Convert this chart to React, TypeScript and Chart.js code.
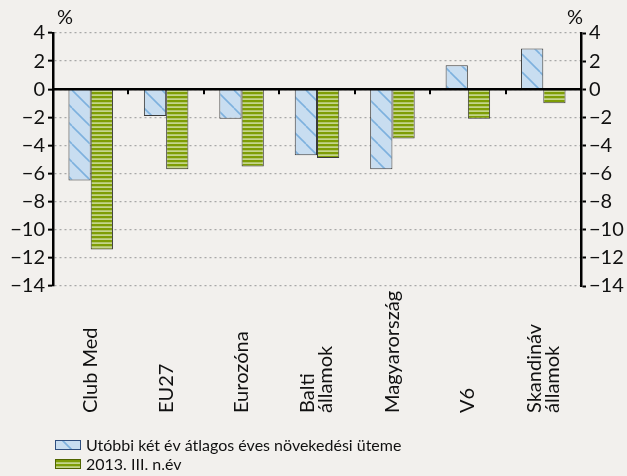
import React, { useEffect, useRef } from 'react';
import { Chart, registerables } from 'chart.js';

Chart.register(...registerables);

// ---- data ----
const categories: (string | string[])[] = [
  'Club Med',
  'EU27',
  'Eurozóna',
  ['Balti', 'államok'],
  'Magyarország',
  'V6',
  ['Skandináv', 'államok'],
];
const seriesNames = ['Utóbbi két év átlagos éves növekedési üteme', '2013. III. n.év'];
const avgGrowth = [-6.5, -1.9, -2.1, -4.7, -5.7, 1.7, 2.9];
const q3Growth = [-11.4, -5.7, -5.5, -4.9, -3.5, -2.1, -1.0];
const yMin = -14;
const yMax = 4;
const yStep = 2;
const unitLabel = '%';

// ---- styles ----
const BG = '#F2F0ED';
const FONT = 'Lato';
const TEXT = '#111111';

function makeBluePattern(): CanvasPattern | string {
  const s = 18;
  const c = document.createElement('canvas');
  c.width = s;
  c.height = s;
  const g = c.getContext('2d');
  if (!g) return '#C8DDF0';
  g.fillStyle = '#C8DDF0';
  g.fillRect(0, 0, s, s);
  g.strokeStyle = '#7DB1DE';
  g.lineWidth = 1.6;
  for (const k of [-s, 0, s]) {
    g.beginPath();
    g.moveTo(k, 0);
    g.lineTo(k + s, s);
    g.stroke();
  }
  return g.createPattern(c, 'repeat') || '#C8DDF0';
}

function makeGreenPattern(): CanvasPattern | string {
  const c = document.createElement('canvas');
  c.width = 4;
  c.height = 4;
  const g = c.getContext('2d');
  if (!g) return '#86A31A';
  g.fillStyle = '#C4D58C';
  g.fillRect(0, 0, 4, 4);
  g.fillStyle = '#7E9D05';
  g.fillRect(0, 0, 4, 2);
  g.fillStyle = '#A2B94A';
  g.fillRect(0, 2, 4, 0.5);
  return g.createPattern(c, 'repeat') || '#86A31A';
}

const fmt = (v: number | string) => {
  const n = Number(v);
  return n < 0 ? '\u2212' + Math.abs(n) : String(n);
};

export default function App() {
  const ref = useRef<HTMLCanvasElement | null>(null);

  useEffect(() => {
    if (!ref.current) return;
    const blue = makeBluePattern();
    const green = makeGreenPattern();
    const legendItems = [
      { name: seriesNames[0], fill: blue, stroke: '#2F4F7F' },
      { name: seriesNames[1], fill: green, stroke: '#4F6400' },
    ];

    const decor = {
      id: 'decor',
      afterDatasetsDraw(chart: any) {
        const { ctx, chartArea: ca, scales } = chart;
        const x = scales.x;
        const y = scales.y;
        const y0 = y.getPixelForValue(0);
        ctx.save();
        ctx.strokeStyle = '#000';
        ctx.lineWidth = 2.5;
        ctx.beginPath();
        ctx.moveTo(ca.left, y0);
        ctx.lineTo(ca.right, y0);
        ctx.stroke();
        ctx.lineWidth = 2;
        ctx.beginPath();
        for (let i = 0; i < categories.length - 1; i++) {
          const bx = Math.round((x.getPixelForValue(i) + x.getPixelForValue(i + 1)) / 2);
          ctx.moveTo(bx, y0);
          ctx.lineTo(bx, y0 + 5);
        }
        ctx.stroke();
        ctx.restore();
      },
      afterDraw(chart: any) {
        const { ctx, chartArea: ca, scales } = chart;
        const x = scales.x;
        ctx.save();
        ctx.fillStyle = TEXT;
        ctx.font = `20px ${FONT}`;
        // unit labels
        ctx.textBaseline = 'middle';
        ctx.textAlign = 'left';
        ctx.fillText(unitLabel, ca.left + 4, ca.top - 15);
        ctx.textAlign = 'right';
        ctx.fillText(unitLabel, ca.right + 2, ca.top - 15);
        // category labels (rotated)
        const lh = 18;
        categories.forEach((lab, i) => {
          const lines = Array.isArray(lab) ? lab : [lab];
          const cx = x.getPixelForValue(i);
          lines.forEach((ln, j) => {
            const off = (j - (lines.length - 1) / 2) * lh;
            ctx.save();
            ctx.translate(cx + off, ca.bottom + 127);
            ctx.rotate(-Math.PI / 2);
            ctx.textAlign = 'left';
            ctx.textBaseline = 'middle';
            ctx.fillText(ln, 0, 0);
            ctx.restore();
          });
        });
        // legend
        ctx.font = `16px ${FONT}`;
        legendItems.forEach((it, i) => {
          const cy = chart.height - 31 + i * 19;
          ctx.fillStyle = it.fill;
          ctx.fillRect(55, cy - 5, 26, 10);
          ctx.strokeStyle = it.stroke;
          ctx.lineWidth = 1;
          ctx.strokeRect(55.5, cy - 4.5, 25, 9);
          ctx.fillStyle = TEXT;
          ctx.textAlign = 'left';
          ctx.textBaseline = 'middle';
          ctx.fillText(it.name, 86, cy + 1);
        });
        ctx.restore();
      },
    };

    const tickFont = { family: FONT, size: 20 };

    const chart = new Chart(ref.current, {
      type: 'bar',
      data: {
        labels: categories as any,
        datasets: [
          {
            label: seriesNames[0],
            data: avgGrowth,
            backgroundColor: blue as any,
            borderColor: '#3A3A3A',
            borderWidth: 1,
            categoryPercentage: 0.59,
            barPercentage: 1,
          },
          {
            label: seriesNames[1],
            data: q3Growth,
            backgroundColor: green as any,
            borderColor: '#3A3A3A',
            borderWidth: 1,
            categoryPercentage: 0.59,
            barPercentage: 1,
          },
        ],
      },
      options: {
        animation: false,
        responsive: false,
        devicePixelRatio: 1,
        layout: { padding: { top: 33, bottom: 190, left: 0, right: 0 } },
        plugins: { legend: { display: false }, tooltip: { enabled: false } },
        scales: {
          x: { display: false, offset: true, grid: { display: false } },
          y: {
            position: 'left',
            min: yMin,
            max: yMax,
            ticks: { stepSize: yStep, color: TEXT, font: tickFont, padding: 3, callback: fmt as any },
            grid: {
              color: '#A8A8A8',
              lineWidth: 1.3,
              tickLength: 5,
              tickColor: '#000',
              tickWidth: 2,
            },
            border: { display: true, color: '#000', width: 2.5, dash: [2, 3] },
            afterFit: (s: any) => {
              s.width = 53;
            },
          },
          y2: {
            position: 'right',
            min: yMin,
            max: yMax,
            ticks: { stepSize: yStep, color: TEXT, font: tickFont, padding: 3, callback: fmt as any },
            grid: {
              drawOnChartArea: false,
              tickLength: 5,
              tickColor: '#000',
              tickWidth: 2,
            },
            border: { display: true, color: '#000', width: 2.5 },
            afterFit: (s: any) => {
              s.width = 46;
            },
          },
        } as any,
      },
      plugins: [decor],
    });
    return () => chart.destroy();
  }, []);

  return (
    <div style={{ position: 'fixed', left: 0, top: 0, width: 627, height: 476, background: BG }}>
      <canvas ref={ref} width={627} height={476} style={{ display: 'block', background: BG }} />
    </div>
  );
}
